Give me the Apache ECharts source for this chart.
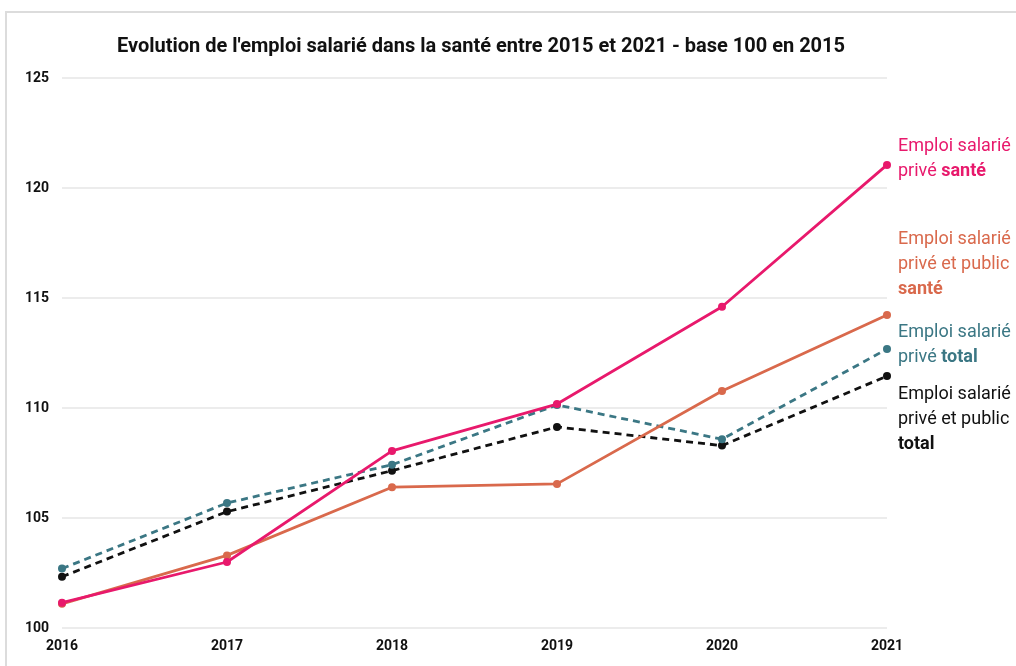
<!DOCTYPE html>
<html>
<head>
<meta charset="utf-8">
<script src="https://cdn.jsdelivr.net/npm/echarts@6/dist/echarts.min.js"></script>
<style>
  html, body { margin: 0; padding: 0; background: #fff; }
  #chart { width: 1016px; height: 666px; }
</style>
</head>
<body>
<div id="chart"></div>
<script>
// années et valeurs (base 100 en 2015)
const years = ['2016', '2017', '2018', '2019', '2020', '2021'];
const priveSante = [101.15, 103.0, 108.05, 110.18, 114.6, 121.05];
const priveEtPublicSante = [101.1, 103.3, 106.4, 106.55, 110.77, 114.23];
const priveTotal = [102.7, 105.68, 107.42, 110.14, 108.58, 112.68];
const priveEtPublicTotal = [102.33, 105.29, 107.15, 109.14, 108.29, 111.45];
const yTicks = [100, 105, 110, 115, 120, 125];

const PINK = '#e8196c';
const ORANGE = '#d9694c';
const TEAL = '#3b7784';
const BLACK = '#111111';

const chart = echarts.init(document.getElementById('chart'));

function richFor(color) {
  return {
    a: { color: color, fontFamily: 'Roboto', fontSize: 18, lineHeight: 25 },
    b: { color: color, fontFamily: 'Roboto', fontSize: 18, fontWeight: 'bold', lineHeight: 25 }
  };
}

function lineSeries(name, data, color, dashed, label, offsetY) {
  return {
    name: name,
    type: 'line',
    data: data,
    symbol: 'circle',
    symbolSize: 8,
    itemStyle: { color: color },
    lineStyle: { color: color, width: 2.8, type: dashed ? [7, 5] : 'solid' },
    z: dashed ? 2 : 3,
    endLabel: {
      show: true,
      distance: 11,
      offset: [0, offsetY],
      formatter: label,
      rich: richFor(color)
    }
  };
}

const option = {
  animation: false,
  title: {
    text: "Evolution de l'emploi salarié dans la santé entre 2015 et 2021 - base 100 en 2015",
    left: 476,
    textAlign: 'center',
    top: 32,
    textStyle: {
      fontFamily: 'Roboto',
      fontWeight: 'bold',
      fontSize: 20,
      color: '#111'
    }
  },
  graphic: [{
    type: 'polyline',
    shape: { points: [[6, 666], [6, 12], [1016, 12]] },
    style: { stroke: '#dcdcdc', lineWidth: 2, fill: null }
  }],
  grid: { left: 62, right: 129, top: 78, bottom: 38 },
  xAxis: {
    type: 'category',
    data: years,
    boundaryGap: false,
    axisLine: { show: false },
    axisTick: { show: false },
    axisLabel: {
      margin: 11,
      color: '#111',
      fontFamily: 'Roboto',
      fontWeight: 'bold',
      fontSize: 14
    }
  },
  yAxis: {
    type: 'value',
    min: yTicks[0],
    max: yTicks[yTicks.length - 1],
    interval: 5,
    axisLine: { show: false },
    axisTick: { show: false },
    splitLine: { lineStyle: { color: '#e6e6e6', width: 1.5 } },
    axisLabel: {
      align: 'left',
      margin: 37,
      color: '#111',
      fontFamily: 'Roboto',
      fontWeight: 'bold',
      fontSize: 14
    }
  },
  series: [
    lineSeries('Emploi salarié privé et public total', priveEtPublicTotal, BLACK, true,
      '{a|Emploi salarié}\n{a|privé et public}\n{b|total}', 43),
    lineSeries('Emploi salarié privé total', priveTotal, TEAL, true,
      '{a|Emploi salarié}\n{a|privé }{b|total}', -4),
    lineSeries('Emploi salarié privé et public santé', priveEtPublicSante, ORANGE, false,
      '{a|Emploi salarié}\n{a|privé et public}\n{b|santé}', -50),
    lineSeries('Emploi salarié privé santé', priveSante, PINK, false,
      '{a|Emploi salarié}\n{a|privé }{b|santé}', -6)
  ]
};

chart.setOption(option);
</script>
</body>
</html>
